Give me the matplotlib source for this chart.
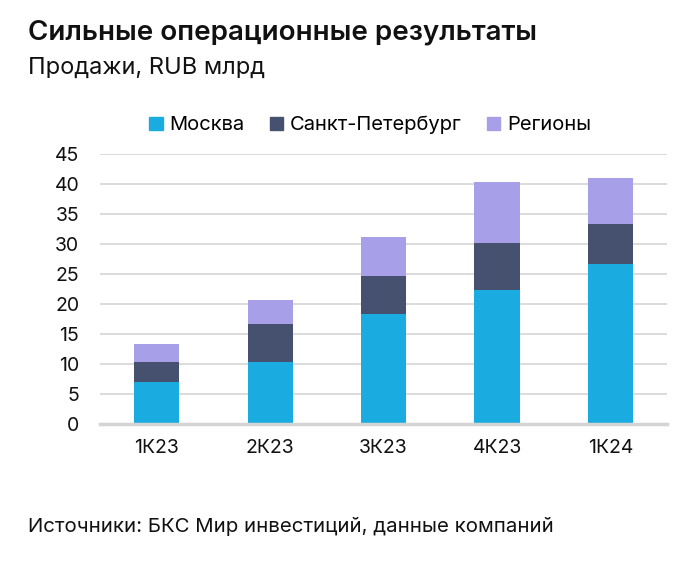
import matplotlib
matplotlib.use("Agg")
import matplotlib.pyplot as plt
from matplotlib.patches import Patch

plt.rcParams['font.family'] = ['Inter', 'DejaVu Sans']

quarters = ['1К23', '2К23', '3К23', '4К23', '1К24']
moscow = [7.1, 10.4, 18.3, 22.4, 26.6]
spb = [3.3, 6.2, 6.3, 7.7, 6.7]
regions = [3.0, 4.1, 6.6, 10.2, 7.7]

series_names = ['Москва', 'Санкт-Петербург', 'Регионы']
colors = ['#1aabe0', '#45516f', '#a89fe9']

fig = plt.figure(figsize=(7, 5.64), dpi=100)
ax = fig.add_axes([0.143, 0.248, 0.81, 0.479])

x = range(len(quarters))
bottom = [0] * len(quarters)
for vals, name, c in zip([moscow, spb, regions], series_names, colors):
    ax.bar(x, vals, width=0.4, bottom=bottom, color=c, label=name, zorder=3)
    bottom = [b + v for b, v in zip(bottom, vals)]

ax.set_xlim(-0.5, len(quarters) - 0.5)
ax.set_ylim(0, 45)
ax.set_yticks(range(0, 46, 5))
ax.set_xticks(list(x))
ax.set_xticklabels(quarters)
ax.yaxis.grid(True, color='#d9d9d9', linewidth=1.3, zorder=0)
for s in ['top', 'right', 'left']:
    ax.spines[s].set_visible(False)
ax.spines['bottom'].set_color('#d4d4d4')
ax.spines['bottom'].set_linewidth(2.5)
ax.spines['bottom'].set_zorder(4)
ax.tick_params(axis='both', length=0, labelsize=14, colors='#111111')
ax.tick_params(axis='y', pad=15)
ax.tick_params(axis='x', pad=11)

handles = [Patch(color=c) for c in colors]
fig.legend(handles, series_names, loc='center', bbox_to_anchor=(0.529, 0.778),
           ncol=3, frameon=False, fontsize=14.5, handlelength=0.65, handleheight=0.65,
           handletextpad=0.35, columnspacing=1.25)

fig.text(0.04, 0.942, 'Сильные операционные результаты', fontsize=20,
         fontweight='semibold', color='#111111', va='center')
fig.text(0.04, 0.88, 'Продажи, RUB млрд', fontsize=17, color='#111111', va='center')
fig.text(0.04, 0.066, 'Источники: БКС Мир инвестиций, данные компаний', fontsize=14.7,
         color='#111111', va='center')

fig.savefig('out.png', dpi=100)
